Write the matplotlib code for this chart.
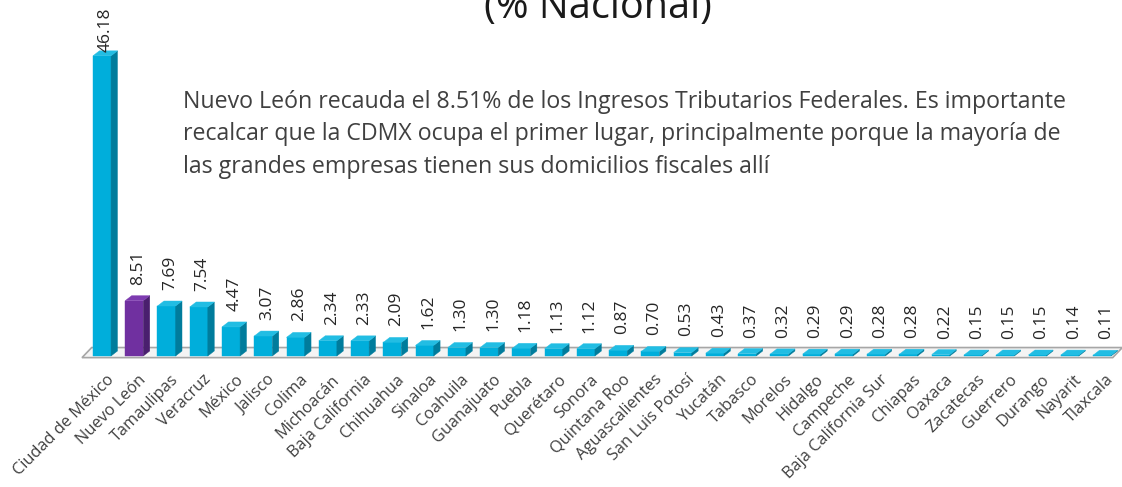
import matplotlib.pyplot as plt
from matplotlib.patches import Polygon

# ---- data ----
estados = ['Ciudad de México', 'Nuevo León', 'Tamaulipas', 'Veracruz', 'México',
           'Jalisco', 'Colima', 'Michoacán', 'Baja California', 'Chihuahua',
           'Sinaloa', 'Coahuila', 'Guanajuato', 'Puebla', 'Querétaro', 'Sonora',
           'Quintana Roo', 'Aguascalientes', 'San Luis Potosí', 'Yucatán',
           'Tabasco', 'Morelos', 'Hidalgo', 'Campeche', 'Baja California Sur',
           'Chiapas', 'Oaxaca', 'Zacatecas', 'Guerrero', 'Durango', 'Nayarit',
           'Tlaxcala']
porcentaje = [46.18, 8.51, 7.69, 7.54, 4.47, 3.07, 2.86, 2.34, 2.33, 2.09,
              1.62, 1.30, 1.30, 1.18, 1.13, 1.12, 0.87, 0.70, 0.53, 0.43,
              0.37, 0.32, 0.29, 0.29, 0.28, 0.28, 0.22, 0.15, 0.15, 0.15,
              0.14, 0.11]
destacado = 'Nuevo León'
titulo = '(% Nacional)'
nota = ['Nuevo León recauda el 8.51% de los Ingresos Tributarios Federales. Es importante',
        'recalcar que la CDMX ocupa el primer lugar, principalmente porque la mayoría de',
        'las grandes empresas tienen sus domicilios fiscales allí']

# ---- estilo ----
plt.rcParams['font.family'] = ['Open Sans', 'DejaVu Sans']
W, H = 1122, 487
fig = plt.figure(figsize=(W / 100, H / 100), dpi=100)
ax = fig.add_axes([0, 0, 1, 1])
ax.axis('off')

# escala: centro de barra i -> px 102 + 32.26*i ; valor 0 -> px 356, 6.5 px por unidad
px_x, px_y = 32.26, 6.5
y_top = 356 / px_y
ax.set_xlim(-102 / px_x, (W - 102) / px_x)
ax.set_ylim(-(H - 356) / px_y, y_top)

bw = 0.56            # ancho cara frontal
dx, dy = 0.2, 0.77   # profundidad 3D

# piso
fx0, fx1 = -0.62, 31.33
floor = Polygon([(fx0, -0.25), (fx1, -0.25), (fx1 + 0.3, 1.3), (fx0 + 0.3, 1.3)],
                closed=True, facecolor='#f4f4f4', edgecolor='#a6a6a6', lw=1.2, zorder=1)
ax.add_patch(floor)

cyan = ('#00aedb', '#007c9c', '#22bde3')
morado = ('#7030a0', '#4a1f6e', '#7d3bb0')

for i, (nom, v) in enumerate(zip(estados, porcentaje)):
    front, side, top = morado if nom == destacado else cyan
    x0, x1 = i - bw / 2, i + bw / 2
    ax.bar(i, v, width=bw, bottom=0, color=front, edgecolor=front, lw=0.3, zorder=3)
    ax.add_patch(Polygon([(x1, 0), (x1 + dx, dy), (x1 + dx, v + dy), (x1, v)],
                         closed=True, facecolor=side, edgecolor=side, lw=0.3, zorder=3))
    ax.add_patch(Polygon([(x0, v), (x1, v), (x1 + dx, v + dy), (x0 + dx, v + dy)],
                         closed=True, facecolor=top, edgecolor=top, lw=0.3, zorder=3))
    # etiqueta de valor (limitada para que no salga del area)
    ly = min(v + dy + 1.7, y_top - 8.0)
    ax.text(i + 0.12, ly, f'{v:.2f}', rotation=90, ha='center', va='bottom',
            fontsize=12.5, color='#262626', zorder=4)
    # etiqueta de categoría
    ax.text(i + 0.12, -2.4, nom, rotation=45, rotation_mode='anchor',
            ha='right', va='top', fontsize=11.8, color='#404040')

# titulo (cortado en la parte superior, como en el original)
fig.text(598 / W, 1 - 18 / H, titulo, ha='center', va='baseline', fontsize=28.5, color='#1a1a1a')

# nota
for k, linea in enumerate(nota):
    fig.text(183 / W, 1 - (108 + 32.5 * k) / H, linea, ha='left', va='baseline',
             fontsize=16.7, color='#404040')

fig.savefig('out.png', dpi=100)
